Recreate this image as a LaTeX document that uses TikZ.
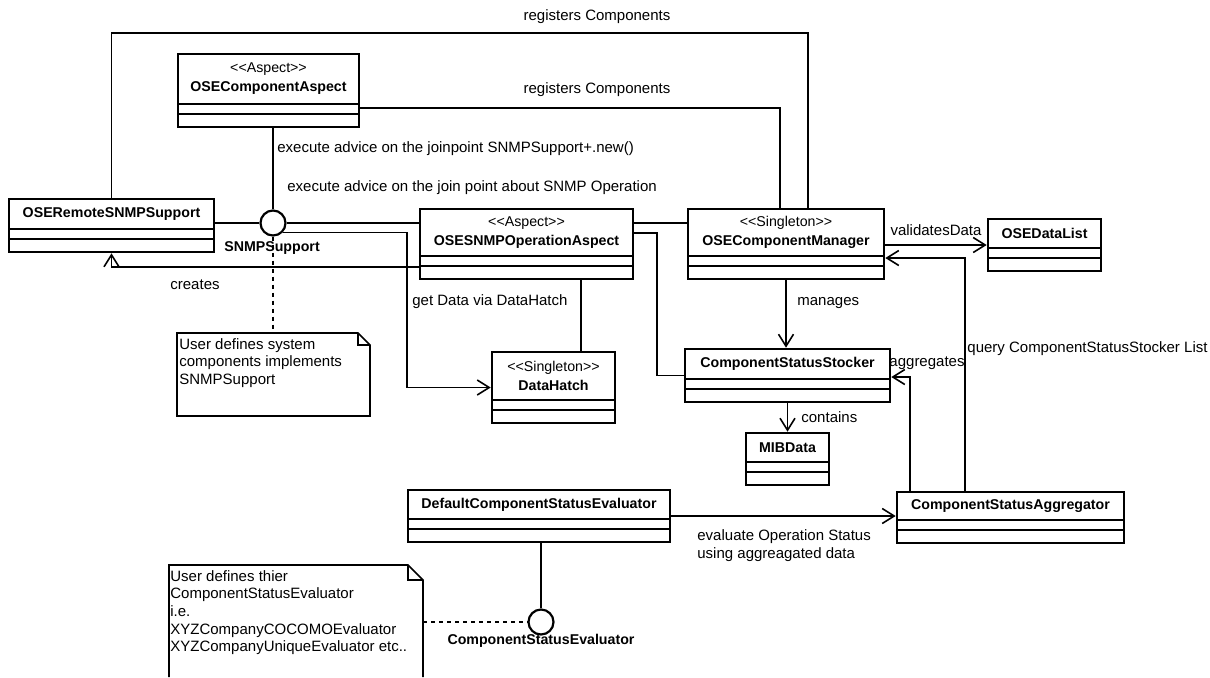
\documentclass[tikz,border=0pt]{standalone}
\usepackage{fontspec}
\setmainfont{Liberation Sans}
\usetikzlibrary{arrows.meta,fit}
\newcommand{\stereo}[1]{{\mdseries{<}{<}#1{>}{>}}}
\newcommand{\umlclass}[6]{%
  \node[classbox, fit={(#2,#3) (#4,#5)}] (#1) {};
  \draw[sepline] (#2,#5-23) -- (#4,#5-23);
  \draw[sepline] (#2,#5-13) -- (#4,#5-13);
  \node[classname] (#1-name) at ({(#2+#4)/2},{(#3+#5-23)/2}) {#6};}
\begin{document}
\begin{tikzpicture}[x=0.5pt,y=-0.5pt,
  classbox/.style={draw,line width=1.3pt,inner sep=0pt},
  sepline/.style={line width=0.7pt},
  classname/.style={align=center,inner sep=0pt,font=\fontsize{7.1}{9.5}\selectfont\bfseries},
  lbl/.style={inner sep=0pt,font=\fontsize{7.5}{9}\selectfont},
  conn/.style={line width=0.8pt},
  nav/.style={conn,-{Straight Barb[length=6pt,width=7.5pt,line width=0.8pt]}},
  iface/.style={draw,circle,line width=1.1pt,minimum size=12.5pt,inner sep=0pt},
  notebox/.style={line width=0.8pt},
  notetext/.style={align=left,anchor=north west,inner sep=0pt,font=\fontsize{7.5}{8.8}\selectfont},
  tie/.style={line width=0.8pt,dash pattern=on 2pt off 2pt}]
  \useasboundingbox (0,0) rectangle (1210,677);

  \umlclass{compAspect}{178}{54}{359}{127}{\stereo{Aspect}\\OSEComponentAspect}
  \umlclass{remoteSupport}{9}{199}{214}{252}{OSERemoteSNMPSupport}
  \umlclass{opAspect}{420}{209}{633}{279}{\stereo{Aspect}\\OSESNMPOperationAspect}
  \umlclass{compManager}{688}{209}{884}{279}{\stereo{Singleton}\\OSEComponentManager}
  \umlclass{dataList}{988}{219}{1101}{271}{OSEDataList}
  \umlclass{dataHatch}{492}{352}{615}{423}{\stereo{Singleton}\\DataHatch}
  \umlclass{stocker}{685}{349}{890}{402}{ComponentStatusStocker}
  \umlclass{mibData}{746}{433}{829}{485}{MIBData}
  \umlclass{defaultEval}{408}{490}{670}{542}{DefaultComponentStatusEvaluator}
  \umlclass{aggregator}{897}{492}{1124}{543}{ComponentStatusAggregator}

  \node[iface] (snmpIf) at (273,223) {};
  \node[classname] (snmpIfName) at (272,248) {SNMPSupport};
  \node[iface] (evalIf) at (541,622) {};
  \node[classname] (evalIfName) at (541,641) {ComponentStatusEvaluator};

  \draw[notebox] (177,333) -- (358,333) -- (370,345) -- (370,416) -- (177,416) -- cycle;
  \draw[notebox] (358,333) -- (358,345) -- (370,345);
  \node[notetext] (note1) at (179,338) {User defines system\\components implements\\SNMPSupport};
  \draw[notebox] (169,677) -- (169,565) -- (408,565) -- (423,580) -- (423,677);
  \draw[notebox] (408,565) -- (408,580) -- (423,580);
  \node[notetext] (note2) at (170,570) {User defines thier\\ComponentStatusEvaluator\\i.e.\\XYZCompanyCOCOMOEvaluator\\XYZCompanyUniqueEvaluator etc..};

  \coordinate (regA) at (808,33);
  \coordinate (regB) at (780,108);
  \coordinate (gd) at (407,0);
  \coordinate (cr) at (112,267);
  \coordinate (dh) at (581,0);
  \coordinate (os) at (657,233);
  \coordinate (q) at (965,258);
  \coordinate (ag) at (910,377);
  \coordinate (note1n) at (273,333);
  \coordinate (note2e) at (423,622);

  \draw[conn] (remoteSupport.north) |- (regA) -- (regA |- compManager.north);
  \draw[conn] (compAspect.east |- regB) -- (regB) -- (regB |- compManager.north);
  \draw[conn] (snmpIf |- compAspect.south) -- (snmpIf.north);
  \draw[conn] (remoteSupport.east |- snmpIf) -- (snmpIf.west);
  \draw[conn] (snmpIf.east) -- (opAspect.west |- snmpIf);
  \draw[nav] (snmpIf.-45) -| (gd |- dataHatch.west) -- (dataHatch.west);
  \draw[nav] (opAspect.west |- cr) -| (remoteSupport.south);
  \draw[conn] (opAspect.south -| dh) -- (dataHatch.north -| dh);
  \draw[conn] (opAspect.east |- snmpIf) -- (compManager.west |- snmpIf);
  \draw[conn] (opAspect.east |- os) -- (os) |- (stocker.west);
  \draw[nav] (compManager.south) -- (compManager.south |- stocker.north);
  \draw[nav] (compManager.east |- dataList.west) -- (dataList.west);
  \draw[nav] (aggregator.north -| q) -- (q) -- (compManager.east |- q);
  \draw[nav] (aggregator.north -| ag) -- (ag) -- (stocker.east |- ag);
  \draw[nav] (stocker.south) -- (mibData.north);
  \draw[nav] (defaultEval.east) -- (aggregator.west |- defaultEval.east);
  \draw[conn] (evalIf |- defaultEval.south) -- (evalIf.north);
  \draw[tie] (snmpIf.south) -- (note1n);
  \draw[tie] (note2e) -- (evalIf.west);

  \node[lbl] at (597,17) {registers Components};
  \node[lbl] at (597,90) {registers Components};
  \node[lbl,anchor=west] at (277,149) {execute advice on the joinpoint SNMPSupport+.new()};
  \node[lbl,anchor=west] at (287,188) {execute advice on the join point about SNMP Operation};
  \node[lbl] at (195,285) {creates};
  \node[lbl,anchor=west] at (412,302) {get Data via DataHatch};
  \node[lbl] at (936,230) {validatesData};
  \node[lbl,anchor=west] at (797,303) {manages};
  \node[lbl,anchor=west] at (967,349) {query ComponentStatusStocker List};
  \node[lbl] at (927,363) {aggregates};
  \node[lbl,anchor=west] at (801,417) {contains};
  \node[lbl,anchor=north west,align=left] at (697,529) {evaluate Operation Status\\using aggreagated data};
\end{tikzpicture}
\end{document}
